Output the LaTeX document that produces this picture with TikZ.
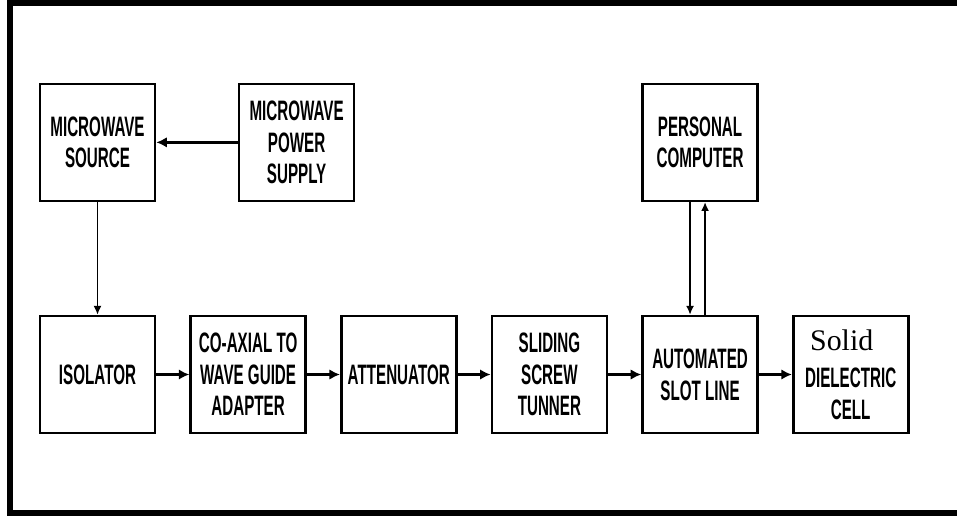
\documentclass[tikz,border=0pt]{standalone}
\usepackage{fontspec}
\usetikzlibrary{positioning,arrows.meta}
\newfontfamily\blockfont{Liberation Sans}[FakeStretch=0.54]
\newfontfamily\solidfont{Liberation Serif}

\begin{document}
\begin{tikzpicture}[
  block/.style={draw,line width=1.5pt,minimum width=2.3cm,minimum height=2.34cm,
    align=center,inner sep=1pt,font={\blockfont\bfseries\fontsize{16}{18}\selectfont}},
  feed/.style={line width=1.6pt,-{Latex[length=6pt,width=6pt]}},
  wire/.style={line width=0.8pt,-{Latex[length=5pt,width=4.5pt]}},
  node distance=0.66cm]
\useasboundingbox (0,0) rectangle (19.14,10.32);
% outer frame, open on the right
\draw[line width=0.12cm] (19.14,10.26) -- (0.2,10.26) -- (0.2,0.06) -- (19.14,0.06);

% waveguide chain
\node[block] (iso) at (1.95,2.83) {ISOLATOR};
\node[block,right=of iso] (adapter) {CO-AXIAL TO\\WAVE GUIDE\\ADAPTER};
\node[block,right=of adapter] (atten) {ATTENUATOR};
\node[block,right=of atten] (tuner) {SLIDING\\SCREW\\TUNNER};
\node[block,right=of tuner] (slot) {AUTOMATED\\SLOT LINE};
\node[block,right=of slot] (cell) {{\solidfont\mdseries\fontsize{17}{18}\selectfont Solid\hspace*{0.36cm}}\\[3pt]DIELECTRIC\\CELL};

% source and control
\node[block,above=2.25cm of iso] (source) {MICROWAVE\\SOURCE};
\node[block,right=1.63cm of source] (supply) {MICROWAVE\\POWER\\SUPPLY};
\node[block,above=2.25cm of slot] (pc) {PERSONAL\\COMPUTER};

\draw[feed] (supply) -- (source);
\draw[wire] (source) -- (iso);
\draw[feed] (iso) -- (adapter);
\draw[feed] (adapter) -- (atten);
\draw[feed] (atten) -- (tuner);
\draw[feed] (tuner) -- (slot);
\draw[feed] (slot) -- (cell);
\draw[wire] ([xshift=-0.2cm]pc.south) -- ([xshift=-0.2cm]slot.north);
\draw[wire] ([xshift=0.1cm]slot.north) -- ([xshift=0.1cm]pc.south);
\end{tikzpicture}
\end{document}
